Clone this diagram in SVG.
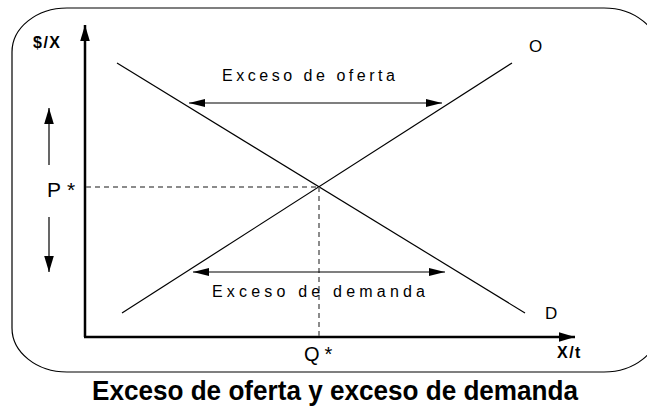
<svg xmlns="http://www.w3.org/2000/svg" width="647" height="411" viewBox="0 0 647 411">
<style>
.t{font-family:"Liberation Sans",Arial,sans-serif;fill:#000}
.ln{stroke:#000;stroke-width:1.2;fill:none}
.ax{stroke:#000;stroke-width:2.5;fill:none}
.dash{stroke:#666;stroke-width:1.5;stroke-dasharray:5,4;fill:none}
</style>
<defs>
<marker id="ahs" viewBox="0 0 20 10" refX="20" refY="5" markerWidth="18" markerHeight="8" markerUnits="userSpaceOnUse" orient="auto-start-reverse">
<path d="M0,0 L20,5 L0,10 z" fill="#000"/>
</marker>
<marker id="aax" viewBox="0 0 20 12" refX="20" refY="6" markerWidth="16" markerHeight="12" markerUnits="userSpaceOnUse" orient="auto">
<path d="M0,0 L20,6 L0,12 z" fill="#000"/>
</marker>
</defs>
<rect id="frame" x="12" y="8" width="647" height="364" rx="55" ry="44" fill="none" stroke="#000" stroke-width="1.2"/>
<g id="axes">
<line class="ax" x1="85" y1="337" x2="85" y2="25" marker-end="url(#aax)"/>
<line class="ax" x1="84" y1="337" x2="575" y2="337" marker-end="url(#aax)"/>
<text class="t" x="33" y="48" font-size="16" font-weight="bold" letter-spacing="1.5">$/X</text>
<text class="t" x="557" y="358" font-size="16" font-weight="bold" letter-spacing="1.5">X/t</text>
</g>
<g id="connectors">
<line class="ln" x1="122" y1="313" x2="512" y2="63"/>
<line class="ln" x1="117" y1="63" x2="525" y2="313"/>
<line class="dash" x1="86" y1="187" x2="319" y2="187"/>
<line class="dash" x1="319" y1="187" x2="319" y2="336"/>
<line class="ln" x1="189" y1="103" x2="442" y2="103" marker-start="url(#ahs)" marker-end="url(#ahs)"/>
<line class="ln" x1="193" y1="272" x2="445" y2="272" marker-start="url(#ahs)" marker-end="url(#ahs)"/>
<line class="ln" x1="49" y1="165" x2="49" y2="108" marker-end="url(#aax)"/>
<line class="ln" x1="49" y1="217" x2="49" y2="272" marker-end="url(#aax)"/>
</g>
<g id="labels">
<text class="t" x="529" y="52" font-size="17">O</text>
<text class="t" x="545" y="319" font-size="17">D</text>
<text class="t" x="47" y="197" font-size="21">P<tspan dx="6">*</tspan></text>
<text class="t" x="304" y="361" font-size="20">Q<tspan dx="5">*</tspan></text>
<text class="t" x="222" y="81" font-size="16" letter-spacing="3" textLength="176">Exceso de oferta</text>
<text class="t" x="212" y="297" font-size="16" letter-spacing="3" textLength="216">Exceso de demanda</text>
</g>
<text id="title" class="t" x="92" y="400" font-size="27" font-weight="bold" textLength="486" lengthAdjust="spacingAndGlyphs">Exceso de oferta y exceso de demanda</text>
</svg>
